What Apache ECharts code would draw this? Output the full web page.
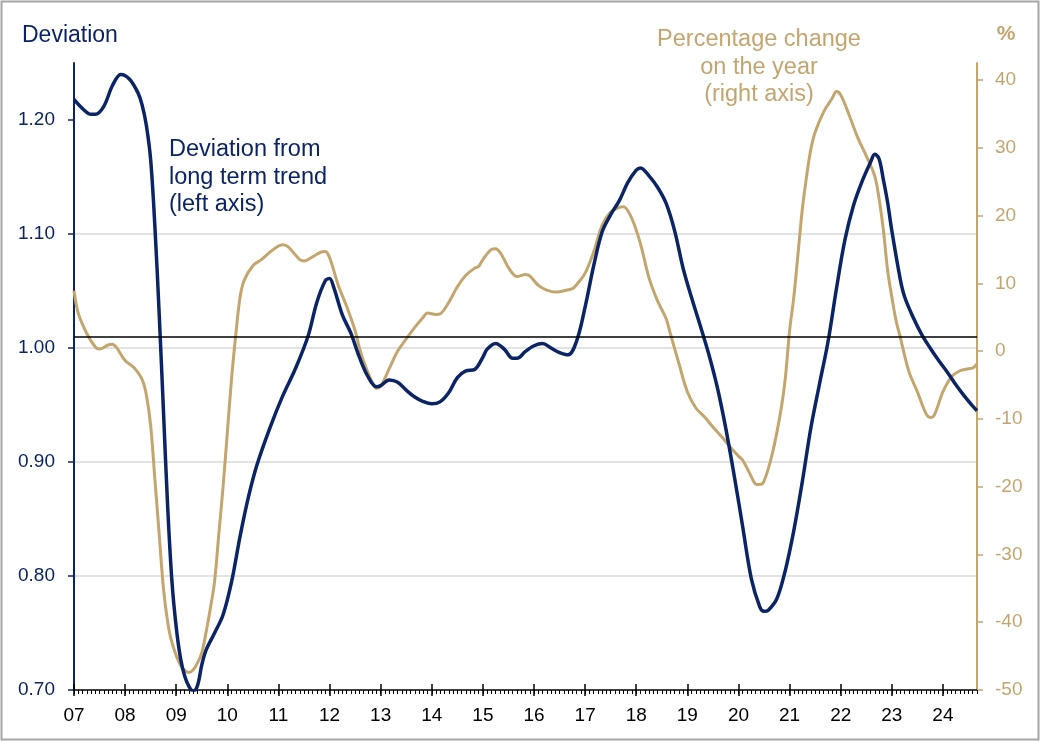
<!DOCTYPE html>
<html>
<head>
<meta charset="utf-8">
<script src="https://cdn.jsdelivr.net/npm/echarts@6/dist/echarts.min.js"></script>
<style>
html,body{margin:0;padding:0;background:#fff;}
#chart{width:1042px;height:742px;}
</style>
</head>
<body>
<div id="chart"></div>
<script>
// ---- Data ----
const deviationDates = ['2007-01','2007-03','2007-05','2007-06','2007-08','2007-10','2007-12','2008-02','2008-04','2008-05','2008-06','2008-07','2008-08','2008-09','2008-10','2008-11','2008-12','2009-01','2009-02','2009-03','2009-04','2009-05','2009-06','2009-07','2009-08','2009-10','2009-12','2010-02','2010-04','2010-06','2010-08','2010-11','2011-02','2011-05','2011-08','2011-10','2011-12','2012-01','2012-02','2012-04','2012-06','2012-08','2012-10','2012-12','2013-01','2013-03','2013-05','2013-07','2013-09','2013-11','2014-01','2014-03','2014-05','2014-07','2014-09','2014-11','2015-01','2015-02','2015-04','2015-06','2015-08','2015-09','2015-11','2016-01','2016-03','2016-05','2016-07','2016-09','2016-11','2017-01','2017-03','2017-05','2017-07','2017-09','2017-11','2018-01','2018-02','2018-04','2018-06','2018-08','2018-10','2018-12','2019-02','2019-04','2019-06','2019-08','2019-10','2019-12','2020-02','2020-04','2020-06','2020-07','2020-08','2020-10','2020-12','2021-02','2021-04','2021-06','2021-08','2021-10','2021-12','2022-02','2022-04','2022-06','2022-08','2022-09','2022-10','2022-11','2022-12','2023-01','2023-03','2023-04','2023-06','2023-08','2023-10','2023-12','2024-02','2024-04','2024-06','2024-08','2024-09'];
const deviationValues = [1.218,1.210,1.205,1.205,1.212,1.230,1.240,1.236,1.224,1.213,1.195,1.165,1.106,1.030,0.945,0.860,0.795,0.755,0.728,0.712,0.703,0.699,0.704,0.722,0.735,0.750,0.766,0.795,0.835,0.870,0.898,0.930,0.958,0.982,1.011,1.040,1.059,1.061,1.053,1.029,1.013,0.992,0.975,0.966,0.967,0.972,0.970,0.963,0.957,0.953,0.951,0.953,0.961,0.974,0.980,0.981,0.992,0.999,1.004,0.999,0.991,0.991,0.997,1.002,1.004,1.000,0.996,0.994,1.006,1.036,1.072,1.102,1.117,1.129,1.145,1.156,1.158,1.151,1.141,1.127,1.103,1.070,1.044,1.020,0.995,0.966,0.930,0.888,0.843,0.798,0.773,0.769,0.770,0.780,0.805,0.840,0.883,0.930,0.968,1.005,1.052,1.095,1.125,1.146,1.163,1.170,1.166,1.148,1.128,1.103,1.060,1.045,1.027,1.012,1.000,0.989,0.979,0.968,0.958,0.949,0.945];

const changeDates = ['2007-01','2007-02','2007-04','2007-06','2007-07','2007-09','2007-10','2007-11','2008-01','2008-03','2008-05','2008-06','2008-07','2008-08','2008-09','2008-10','2008-11','2008-12','2009-02','2009-04','2009-05','2009-06','2009-07','2009-08','2009-09','2009-10','2009-11','2009-12','2010-01','2010-02','2010-03','2010-04','2010-05','2010-07','2010-09','2010-11','2011-01','2011-02','2011-03','2011-04','2011-06','2011-07','2011-09','2011-11','2011-12','2012-01','2012-03','2012-05','2012-07','2012-08','2012-09','2012-11','2012-12','2013-01','2013-02','2013-03','2013-05','2013-07','2013-09','2013-11','2013-12','2014-02','2014-03','2014-05','2014-07','2014-09','2014-11','2014-12','2015-01','2015-03','2015-04','2015-05','2015-06','2015-07','2015-09','2015-11','2015-12','2016-02','2016-04','2016-06','2016-08','2016-10','2016-11','2017-01','2017-03','2017-05','2017-07','2017-09','2017-10','2017-12','2018-02','2018-04','2018-06','2018-08','2018-09','2018-11','2019-01','2019-03','2019-05','2019-07','2019-09','2019-11','2020-01','2020-02','2020-04','2020-05','2020-06','2020-07','2020-09','2020-11','2020-12','2021-01','2021-02','2021-03','2021-04','2021-05','2021-06','2021-07','2021-09','2021-11','2021-12','2022-01','2022-03','2022-05','2022-07','2022-09','2022-10','2022-11','2022-12','2023-01','2023-02','2023-03','2023-05','2023-07','2023-09','2023-10','2023-11','2024-01','2024-03','2024-05','2024-07','2024-08','2024-09'];
const changeValues = [8.9,5.6,2.6,0.6,0.3,0.9,1.0,0.5,-1.4,-2.4,-4.2,-6.5,-11,-19,-27,-35,-40,-43,-46.3,-47.4,-47.0,-46.0,-44.5,-41.5,-38,-34,-27,-20,-12,-4,2.5,8.0,10.5,12.6,13.5,14.6,15.5,15.7,15.5,14.9,13.5,13.3,13.9,14.6,14.7,13.8,9.8,6.6,3.0,0.5,-1.5,-4.6,-5.5,-5.2,-4.0,-2.6,0.0,1.8,3.5,5.0,5.6,5.4,5.5,7.2,9.5,11.2,12.2,12.5,13.5,15.0,15.1,14.6,13.5,12.3,11.0,11.3,11.1,9.7,9.0,8.7,8.9,9.2,9.8,11.5,14.6,18.6,20.5,21.2,21.3,19.5,15.8,10.8,7.4,4.8,2.6,-1.8,-6.0,-8.4,-9.7,-11.2,-12.6,-14.1,-15.5,-16.1,-18.5,-19.6,-19.7,-19.2,-15.0,-8.6,-4.0,3.0,8.0,14.5,21.0,25.8,29.8,32.3,35.3,37.3,38.3,37.8,34.8,31.5,28.8,25.8,22.5,18.0,12.0,8.0,4.5,2.0,-3.0,-6.0,-9.2,-9.8,-9.4,-6.0,-3.8,-2.9,-2.6,-2.5,-1.9];

const referenceLevel = 1.0113;           // black horizontal line (left axis)
const yearTicks = [2007,2008,2009,2010,2011,2012,2013,2014,2015,2016,2017,2018,2019,2020,2021,2022,2023,2024];
const leftTicks = [0.70,0.80,0.90,1.00,1.10,1.20];
const rightTicks = [-50,-40,-30,-20,-10,0,10,20,30,40];

// ---- Styling ----
const NAVY = '#0b2466';
const TAN = '#c4a56d';
const FONT = '"Liberation Sans", Arial, sans-serif';

function toYear(s){ const p = s.split('-'); return Number(p[0]) + (Number(p[1]) - 1) / 12; }
const xMin = 2007;
const xMax = toYear('2024-09');
const monthTicks = [];
for (let i = 0; i <= Math.round((xMax - xMin) * 12); i++) monthTicks.push(xMin + i / 12);

const devData = deviationDates.map((d, i) => [toYear(d), deviationValues[i]]);
const chgData = changeDates.map((d, i) => [toYear(d), changeValues[i]]);

const chart = echarts.init(document.getElementById('chart'), null, {renderer: 'canvas'});
const baseX = {type: 'value', min: xMin, max: xMax, gridIndex: 0, splitLine: {show: false}};
chart.setOption({
  animation: false,
  backgroundColor: '#ffffff',
  grid: {left: 74, right: 65, top: 63, bottom: 52, containLabel: false},
  xAxis: [
    Object.assign({}, baseX, {
      position: 'bottom', interval: 1,
      axisLine: {show: true, onZero: false, lineStyle: {color: '#000', width: 1.5}},
      axisTick: {show: true, length: 6, customValues: yearTicks, lineStyle: {color: '#000', width: 1.5}},
      axisLabel: {show: true, customValues: yearTicks, margin: 16, color: '#000', fontSize: 19, fontFamily: FONT,
        formatter: v => String(Math.round(v)).slice(2)}
    }),
    Object.assign({}, baseX, {
      position: 'bottom', interval: 1,
      axisLine: {show: false, onZero: false},
      axisTick: {show: true, inside: true, length: 6, customValues: yearTicks, lineStyle: {color: '#000', width: 1.5}},
      axisLabel: {show: false}
    }),
    Object.assign({}, baseX, {
      position: 'bottom', interval: 1,
      axisLine: {show: false, onZero: false},
      axisTick: {show: true, length: 4, customValues: monthTicks, lineStyle: {color: '#000', width: 1}},
      axisLabel: {show: false}
    })
  ],
  yAxis: [
    {
      type: 'value', position: 'left', min: 0.70, max: 1.25, interval: 0.1,
      axisLine: {show: true, onZero: false, lineStyle: {color: NAVY, width: 2}},
      axisTick: {show: true, length: 6, customValues: leftTicks, lineStyle: {color: NAVY, width: 1.5}},
      axisLabel: {customValues: leftTicks, formatter: v => v.toFixed(2), color: NAVY, fontSize: 19, fontFamily: FONT, margin: 19},
      splitLine: {show: true, showMinLine: false, showMaxLine: false, lineStyle: {color: '#d9d9d9', width: 1.5}}
    },
    {
      type: 'value', position: 'right', min: -50, max: 42.5, interval: 10,
      axisLine: {show: true, onZero: false, lineStyle: {color: TAN, width: 2}},
      axisTick: {show: true, length: 6, customValues: rightTicks, lineStyle: {color: TAN, width: 1.5}},
      axisLabel: {customValues: rightTicks, color: TAN, fontSize: 19, fontFamily: FONT, margin: 18},
      splitLine: {show: false}
    }
  ],
  series: [
    {
      name: 'Percentage change on the year', type: 'line', xAxisIndex: 0, yAxisIndex: 1,
      data: chgData, smooth: 0.35, symbol: 'none', z: 2,
      lineStyle: {color: TAN, width: 3}
    },
    {
      name: 'Deviation from long term trend', type: 'line', xAxisIndex: 0, yAxisIndex: 0,
      data: devData, smooth: 0.35, symbol: 'none', z: 3,
      lineStyle: {color: NAVY, width: 3.5},
      markLine: {
        silent: true, symbol: ['none', 'none'], label: {show: false},
        lineStyle: {color: '#000', width: 1.5, type: 'solid'},
        data: [{yAxis: referenceLevel}]
      }
    }
  ],
  graphic: [
    {type: 'rect', silent: true, z: 100, shape: {x: 1.5, y: 1.5, width: 1037, height: 738},
      style: {fill: 'none', stroke: '#a6a6a6', lineWidth: 2}},
    {type: 'text', x: 22, y: 36, style: {text: 'Deviation', fill: NAVY, font: '23px ' + FONT, textVerticalAlign: 'middle'}},
    {type: 'text', x: 169, y: 150, style: {text: 'Deviation from', fill: NAVY, font: '23.5px ' + FONT, textVerticalAlign: 'middle'}},
    {type: 'text', x: 169, y: 178, style: {text: 'long term trend', fill: NAVY, font: '23.5px ' + FONT, textVerticalAlign: 'middle'}},
    {type: 'text', x: 169, y: 205, style: {text: '(left axis)', fill: NAVY, font: '23.5px ' + FONT, textVerticalAlign: 'middle'}},
    {type: 'text', x: 759, y: 40, style: {text: 'Percentage change', fill: TAN, font: '23.5px ' + FONT, textAlign: 'center', textVerticalAlign: 'middle'}},
    {type: 'text', x: 759, y: 68, style: {text: 'on the year', fill: TAN, font: '23.5px ' + FONT, textAlign: 'center', textVerticalAlign: 'middle'}},
    {type: 'text', x: 759, y: 95, style: {text: '(right axis)', fill: TAN, font: '23.5px ' + FONT, textAlign: 'center', textVerticalAlign: 'middle'}},
    {type: 'text', x: 1006, y: 34, style: {text: '%', fill: TAN, font: 'bold 21px ' + FONT, textAlign: 'center', textVerticalAlign: 'middle'}}
  ]
});
</script>
</body>
</html>
